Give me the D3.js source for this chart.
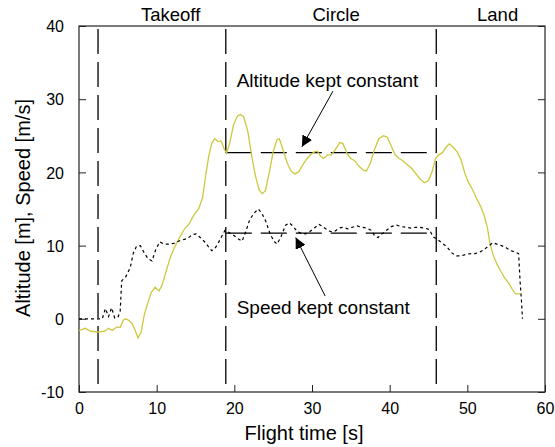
<!DOCTYPE html>
<html lang="en">
<head>
<meta charset="UTF-8">
<title>Flight altitude and speed</title>
<script src="https://cdn.jsdelivr.net/npm/d3@7"></script>
<style>
  body { margin: 0; background: #fff; }
  text { font-family: "Liberation Sans", Arial, sans-serif; fill: #000; }
</style>
</head>
<body>
<div id="container"></div>
<script>
// altitude trace (yellow)
const altTime = [0, 0.8, 1.5, 2.5, 3.3, 3.8, 4.3, 4.9, 5.3, 5.7, 6.0, 6.4, 6.8, 7.2, 7.6, 8.0, 8.4, 8.8, 9.3, 9.8,
  10.3, 10.7, 11.3, 11.8, 12.4, 13.0, 13.6, 14.2, 14.8, 15.4, 15.9, 16.3, 16.7, 17.1, 17.5, 17.9, 18.3, 18.7, 19.0, 19.4,
  19.9, 20.4, 20.8, 21.2, 21.7, 22.2, 22.7, 23.2, 23.6, 24.0, 24.5, 25.0, 25.5, 25.8, 26.3, 26.8, 27.3, 27.8, 28.3, 28.8,
  29.3, 29.8, 30.3, 30.7, 31.1, 31.5, 32.0, 32.5, 33.0, 33.6, 34.0, 34.5, 35.0, 35.5, 36.0, 36.6, 37.0, 37.5, 38.0, 38.6,
  39.2, 39.7, 40.2, 40.7, 41.2, 41.7, 42.2, 42.8, 43.4, 44.0, 44.5, 45.0, 45.5, 45.9, 46.3, 46.8, 47.3, 47.7, 48.2, 48.7,
  49.2, 49.7, 50.2, 50.7, 51.2, 51.7, 52.2, 52.6, 52.9, 53.3, 53.8, 54.3, 54.8, 55.3, 55.8, 56.2, 56.8]
const altValue = [-1.6, -1.3, -1.7, -1.8, -1.7, -1.3, -1.6, -1.1, -1.2, -0.2, 0, -0.2, -0.6, -1.5, -2.6, -1.8, 0.5, 2.0, 3.6, 4.3,
  3.8, 4.6, 6.8, 8.5, 10.0, 11.2, 12.3, 13.0, 14.2, 15.0, 16.5, 19.5, 22.2, 24.0, 24.6, 24.2, 24.3, 23.2, 22.6, 24.0,
  26.5, 27.7, 27.9, 27.6, 25.8, 22.5, 19.6, 17.6, 17.1, 17.5, 20.0, 22.8, 24.5, 24.6, 23.0, 21.3, 20.2, 19.8, 20.1, 21.0,
  21.8, 22.4, 22.8, 22.9, 22.2, 21.9, 22.4, 22.4, 23.1, 24.1, 23.9, 22.6, 21.9, 21.6, 20.9, 20.3, 20.2, 21.2, 23.0, 24.6,
  25.0, 24.8, 23.6, 22.4, 21.9, 21.6, 21.1, 20.6, 19.8, 19.0, 18.6, 18.9, 20.2, 21.9, 22.4, 22.7, 23.5, 23.9, 23.4, 22.8,
  21.7, 19.8, 18.5, 17.6, 16.4, 15.4, 14.0, 12.4, 10.4, 8.8, 7.5, 6.5, 5.6, 4.9, 4.0, 3.4, 3.4]

// speed trace (dotted black)
const spdTime = [0, 2.5, 3.0, 3.4, 3.8, 4.2, 4.6, 5.0, 5.3, 5.5, 6.0, 6.6, 7.0, 7.4, 7.9, 8.4, 8.9, 9.4, 9.9, 10.4,
  11.0, 11.6, 12.2, 12.8, 13.4, 14.0, 14.6, 15.1, 15.6, 16.2, 16.7, 17.1, 17.5, 17.9, 18.4, 18.8, 19.3, 19.8, 20.4, 21.0,
  21.5, 22.0, 22.6, 23.1, 23.6, 24.1, 24.6, 25.1, 25.5, 26.0, 26.6, 27.1, 27.6, 28.1, 28.6, 29.2, 29.7, 30.3, 30.9, 31.4,
  31.9, 32.4, 33.0, 33.5, 34.0, 34.6, 35.2, 35.8, 36.4, 37.0, 37.6, 38.1, 38.5, 39.0, 39.6, 40.2, 40.9, 41.5, 42.1, 42.7,
  43.3, 43.9, 44.5, 45.1, 45.6, 46.2, 46.8, 47.4, 48.0, 48.6, 49.2, 49.8, 50.4, 51.0, 51.6, 52.2, 52.8, 53.3, 53.8, 54.4,
  55.0, 55.6, 56.2, 56.6, 56.8, 57.0, 57.1]
const spdValue = [0, 0, 0, 1.4, 0.3, 1.5, 0.1, 0.2, 1.0, 5.2, 5.7, 7.0, 9.0, 9.9, 10.0, 9.0, 8.2, 7.9, 9.5, 10.5,
  10.2, 10.2, 10.3, 10.6, 10.8, 11.0, 11.5, 11.6, 11.1, 10.5, 9.8, 9.3, 9.6, 10.3, 11.3, 12.1, 11.8, 11.5, 11.0, 10.6,
  12.0, 13.6, 14.5, 15.0, 14.3, 13.2, 11.6, 10.6, 10.2, 11.2, 12.8, 13.1, 12.6, 11.9, 11.7, 11.6, 11.9, 12.4, 12.9, 12.6,
  12.2, 11.9, 12.0, 12.4, 12.5, 12.3, 12.5, 12.7, 12.5, 12.4, 12.1, 11.3, 11.1, 11.6, 12.1, 12.6, 12.8, 12.6, 12.5, 12.4,
  12.5, 12.5, 12.4, 12.2, 11.2, 10.8, 10.3, 9.8, 9.0, 8.6, 8.6, 8.8, 8.9, 8.9, 9.1, 9.5, 10.0, 10.4, 10.2, 10.0,
  9.7, 9.3, 9.1, 8.9, 5.0, 2.0, 0.0]

// phases
const phaseBounds = [2.45, 18.9, 46.0]
const phaseNames = ["Takeoff", "Circle", "Land"]
const phaseCenters = [11.8, 33.1, 53.9]

// "kept constant" levels during circle
const altHold = 22.7, spdHold = 11.7
const holdStart = 18.9, altHoldEnd = 46.0, spdHoldEnd = 45.5

const xTicks = [0, 10, 20, 30, 40, 50, 60]
const yTicks = [-10, 0, 10, 20, 30, 40]

const w = 555, h = 447
const m = { left: 79, right: 545, top: 26, bottom: 392 }

const x = d3.scaleLinear([0, 60], [m.left, m.right])
const y = d3.scaleLinear([-10, 40], [m.bottom, m.top])

const svg = d3.select("#container").append("svg").attr("width", w).attr("height", h)
svg.append("rect").attr("width", w).attr("height", h).attr("fill", "#fff")

// axes, ticks inside like matlab; plain hyphen for negatives
const fmt = d => String(d)
const xAx = d3.axisBottom(x).tickValues(xTicks).tickSize(-7).tickPadding(11).tickFormat(fmt)
const yAx = d3.axisLeft(y).tickValues(yTicks).tickSize(-7).tickPadding(15).tickFormat(fmt)
const yAxR = d3.axisRight(y).tickValues(yTicks).tickSize(-7).tickFormat("")

const gx = svg.append("g").attr("transform", `translate(0,${m.bottom})`).call(xAx)
const gy = svg.append("g").attr("transform", `translate(${m.left},0)`).call(yAx)
const gr = svg.append("g").attr("transform", `translate(${m.right},0)`).call(yAxR)
svg.selectAll(".domain").remove()
;[gx, gy, gr].forEach(g => {
  g.selectAll("line").attr("stroke", "#222")
  g.selectAll("text").style("font-family", "Liberation Sans, Arial, sans-serif").style("font-size", "16px").attr("fill", "#000")
})
gy.selectAll("text").attr("dy", "0.36em")

svg.append("rect").attr("x", m.left).attr("y", m.top).attr("width", m.right - m.left).attr("height", m.bottom - m.top)
  .attr("fill", "none").attr("stroke", "#222").attr("stroke-width", 1.2)

// phase separators
svg.selectAll(".phase").data(phaseBounds).enter().append("line")
  .attr("x1", d => x(d)).attr("x2", d => x(d)).attr("y1", y(40) + 3).attr("y2", y(-10))
  .attr("stroke", "#000").attr("stroke-width", 1.3).attr("stroke-dasharray", "25,8")

svg.selectAll(".phaseName").data(phaseNames).enter().append("text")
  .attr("x", (d, i) => x(phaseCenters[i])).attr("y", 21).attr("text-anchor", "middle")
  .style("font-size", "18.5px").text(d => d)

// constant levels
svg.append("line").attr("x1", x(holdStart)).attr("x2", x(altHoldEnd)).attr("y1", y(altHold)).attr("y2", y(altHold))
  .attr("stroke", "#000").attr("stroke-width", 1.3).attr("stroke-dasharray", "26,9")
svg.append("line").attr("x1", x(holdStart)).attr("x2", x(spdHoldEnd)).attr("y1", y(spdHold)).attr("y2", y(spdHold))
  .attr("stroke", "#000").attr("stroke-width", 1.3).attr("stroke-dasharray", "26,9")

const line = d3.line().x(d => x(d[0])).y(d => y(d[1]))

svg.append("path").datum(altTime.map((t, i) => [t, altValue[i]]))
  .attr("d", line).attr("fill", "none").attr("stroke", "#cdc83e").attr("stroke-width", 1.3)

svg.append("path").datum(spdTime.map((t, i) => [t, spdValue[i]]))
  .attr("d", line).attr("fill", "none").attr("stroke", "#000").attr("stroke-width", 1.2).attr("stroke-dasharray", "3,3")

// annotations
svg.append("defs").append("marker").attr("id", "head").attr("viewBox", "0 0 10 10")
  .attr("refX", 10).attr("refY", 5).attr("markerWidth", 11).attr("markerHeight", 11)
  .attr("markerUnits", "userSpaceOnUse").attr("orient", "auto")
  .append("path").attr("d", "M0,0 L10,5 L0,10 Z").attr("fill", "#000")

const notes = [
  { text: "Altitude kept constant", tx: 20.3, ty: 31.7, from: [32.7, 31.1], to: [28.7, 23.5] },
  { text: "Speed kept constant", tx: 20.3, ty: 0.7, from: [31.7, 3.1], to: [27.9, 11.1] }
]
notes.forEach(n => {
  svg.append("text").attr("x", x(n.tx)).attr("y", y(n.ty)).style("font-size", "19px").text(n.text)
  svg.append("line").attr("x1", x(n.from[0])).attr("y1", y(n.from[1])).attr("x2", x(n.to[0])).attr("y2", y(n.to[1]))
    .attr("stroke", "#000").attr("stroke-width", 1).attr("marker-end", "url(#head)")
})

// axis labels
svg.append("text").attr("x", 304).attr("y", 440).attr("text-anchor", "middle").style("font-size", "20px").text("Flight time [s]")
svg.append("text").attr("transform", "translate(30,208) rotate(-90)").attr("text-anchor", "middle")
  .style("font-size", "20px").text("Altitude [m], Speed [m/s]")
</script>
</body>
</html>
